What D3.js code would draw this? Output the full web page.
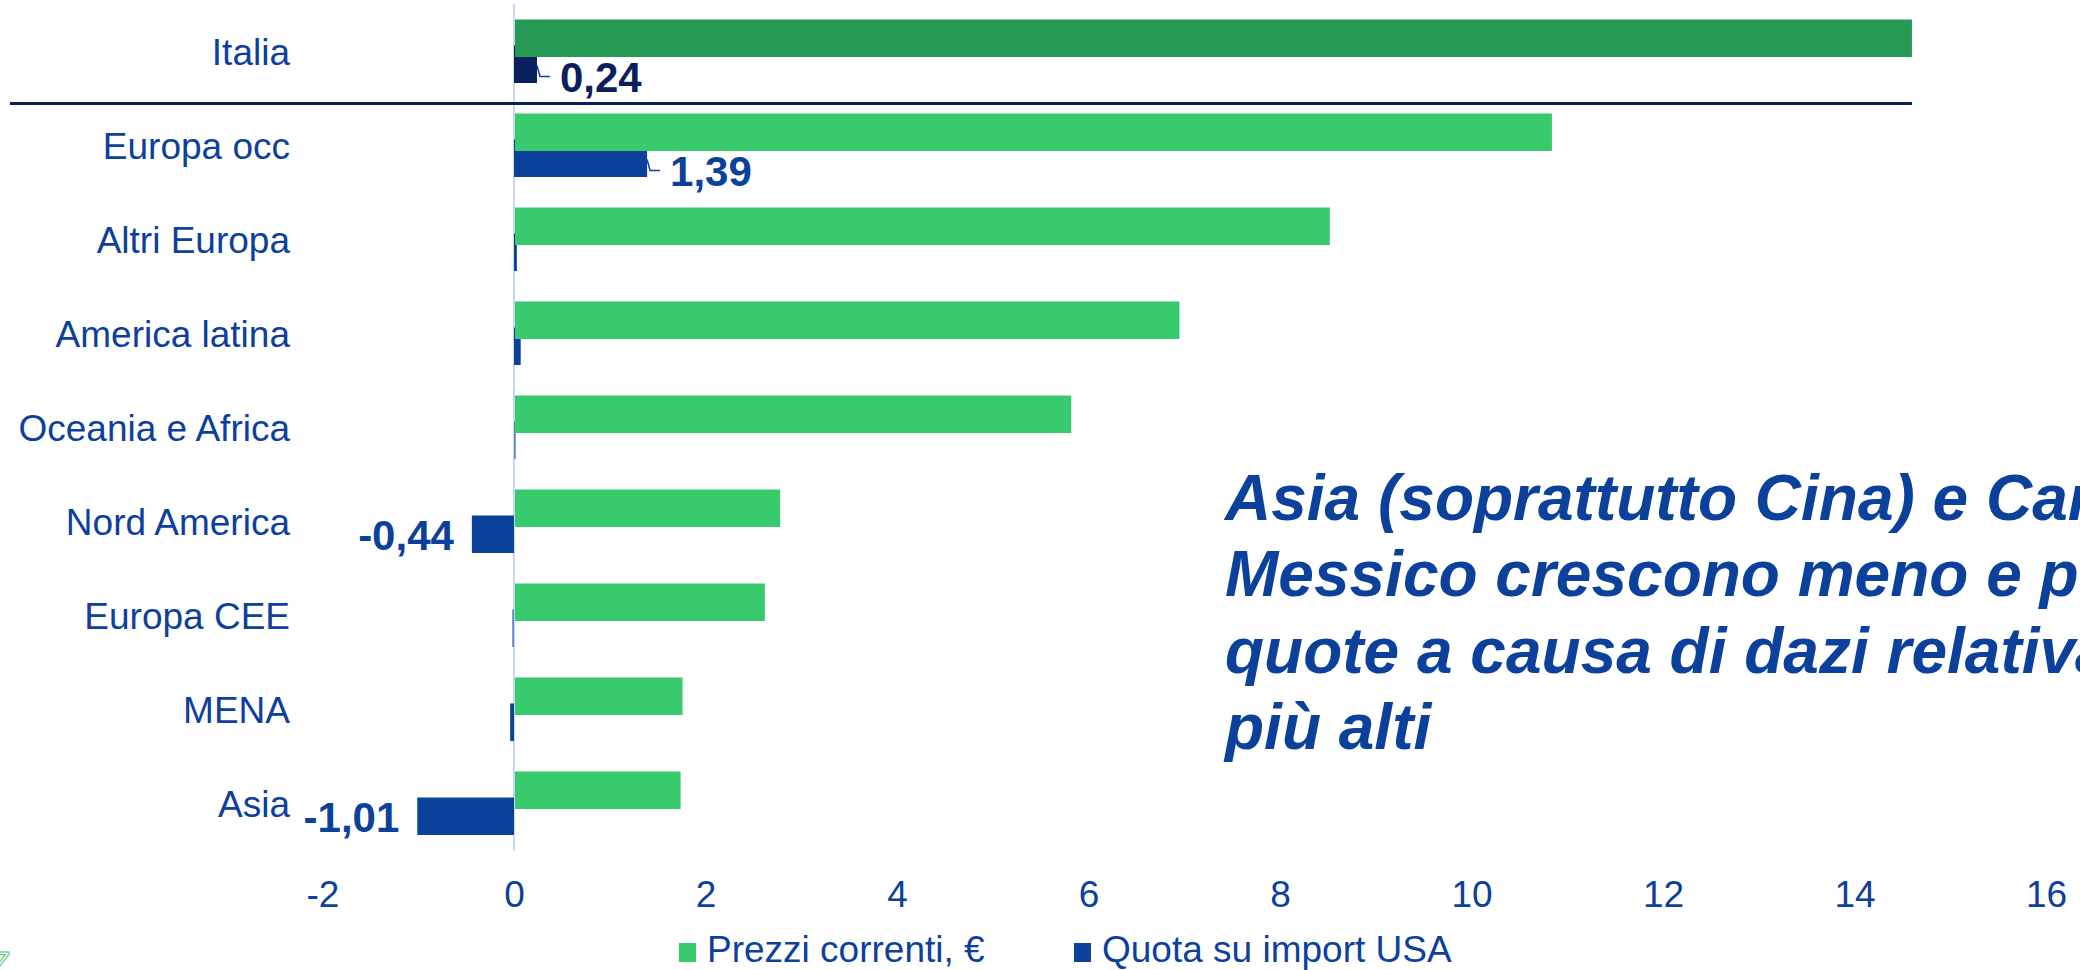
<!DOCTYPE html>
<html>
<head>
<meta charset="utf-8">
<script src="https://cdn.jsdelivr.net/npm/d3@7"></script>
<style>
  body { margin: 0; background: #fff; }
  svg { display: block; font-family: "Liberation Sans", Arial, sans-serif; }
</style>
</head>
<body>
<div class="stage"></div>
<script>
// data
var categories = ["Italia", "Europa occ", "Altri Europa", "America latina", "Oceania e Africa",
                  "Nord America", "Europa CEE", "MENA", "Asia"];
var prezzi = [14.6, 10.84, 8.52, 6.95, 5.82, 2.78, 2.62, 1.76, 1.74];
var quota = [0.24, 1.39, 0.03, 0.07, 0.02, -0.44, -0.02, -0.04, -1.01];
var labelled = ["Italia", "Europa occ", "Nord America", "Asia"];
var xTicks = [-2, 0, 2, 4, 6, 8, 10, 12, 14, 16];
var seriesNames = ["Prezzi correnti, €", "Quota su import USA"];
var noteLines = ["Asia (soprattutto Cina) e Canada-", "Messico crescono meno e perdono",
                 "quote a causa di dazi relativamente", "più alti"];

var W = 2080, H = 970;
var textBlue = "#0d3f9c", barBlue = "#0b419b", navy = "#0a1f5c";
var green = "#38cb6e", darkGreen = "#269955";

var svg = d3.select(".stage").append("svg").attr("width", W).attr("height", H);

var x = d3.scaleLinear().domain([-2, 16]).range([322.5, 2046]);
var y = d3.scaleBand().domain(categories).range([5, 5 + 94 * 9]).padding(0);

var barH = 37.5, greenOff = 14.5, blueOff = greenOff + 26;

// plain hyphen for negatives, comma decimals
var itFmt = function(f){ return function(v){ return f(v).replace("\u2212", "-").replace(".", ","); }; };

// zero axis
svg.append("line")
  .attr("x1", x(0)).attr("x2", x(0)).attr("y1", 4).attr("y2", 851)
  .attr("stroke", "#c9d8f2").attr("stroke-width", 2);

// blue bars first, green on top
svg.selectAll("rect.quota").data(categories).enter()
  .append("rect")
  .attr("class", "quota")
  .attr("x", function(d, i){ return Math.min(x(0), x(quota[i])); })
  .attr("y", function(d){ return y(d) + blueOff; })
  .attr("width", function(d, i){ return Math.max(1.5, Math.abs(x(quota[i]) - x(0))); })
  .attr("height", barH)
  .attr("fill", function(d){ return d == "Italia" ? navy : barBlue; })
  .attr("opacity", function(d, i){ return Math.abs(quota[i]) < 0.025 ? 0.55 : 1; });

svg.selectAll("rect.prezzi").data(categories).enter()
  .append("rect")
  .attr("class", "prezzi")
  .attr("x", x(0) + 1)
  .attr("y", function(d){ return y(d) + greenOff; })
  .attr("width", function(d, i){ return x(prezzi[i]) - x(0) - 1; })
  .attr("height", barH)
  .attr("fill", function(d){ return d == "Italia" ? darkGreen : green; });

// separator under Italia
svg.append("line")
  .attr("x1", 10).attr("x2", x(14.6)).attr("y1", 103.5).attr("y2", 103.5)
  .attr("stroke", navy).attr("stroke-width", 3);

// category labels
svg.selectAll("text.cat").data(categories).enter()
  .append("text")
  .attr("class", "cat")
  .attr("x", 290)
  .attr("y", function(d){ return y(d) + greenOff + 32.5; })
  .attr("dy", "0.35em")
  .attr("text-anchor", "end")
  .attr("font-size", 37)
  .attr("fill", textBlue)
  .text(function(d){ return d; });

// data labels on quota bars
var fmt = itFmt(d3.format(".2f"));
labelled.forEach(function(c){
  var i = categories.indexOf(c), v = quota[i];
  var top = y(c) + blueOff, end = x(v);
  var col = c == "Italia" ? navy : barBlue;
  if (v > 0) {
    svg.append("polyline")
      .attr("points", [[end, top + 20], [end + 3, top + 31], [end + 13, top + 31]].join(" "))
      .attr("fill", "none").attr("stroke", barBlue).attr("stroke-width", 1.5);
    svg.append("text")
      .attr("x", end + 23).attr("y", top + 46)
      .attr("font-size", 42).attr("font-weight", "bold").attr("fill", col)
      .text(fmt(v));
  } else {
    svg.append("text")
      .attr("x", end - 18).attr("y", top + 34)
      .attr("text-anchor", "end")
      .attr("font-size", 42).attr("font-weight", "bold").attr("fill", col)
      .text(fmt(v));
  }
});

// x axis tick labels
var axis = svg.append("g")
  .attr("transform", "translate(0,880)")
  .call(d3.axisBottom(x).tickValues(xTicks).tickSize(0).tickPadding(0).tickFormat(itFmt(d3.format("d"))));
axis.select(".domain").remove();
axis.selectAll("text")
  .attr("y", 27).attr("dy", 0)
  .attr("font-size", 37)
  .attr("font-family", "Liberation Sans, Arial, sans-serif")
  .attr("fill", textBlue);

// legend
var legend = [{x: 679, c: green}, {x: 1074, c: barBlue}];
legend.forEach(function(l, i){
  svg.append("rect").attr("x", l.x).attr("y", 943).attr("width", 17).attr("height", 19).attr("fill", l.c);
  svg.append("text").attr("x", l.x + 28).attr("y", 962)
    .attr("font-size", 37).attr("fill", textBlue).text(seriesNames[i]);
});

// annotation (runs off the right edge, as in the original slide)
svg.append("g").selectAll("text").data(noteLines).enter()
  .append("text")
  .attr("x", 1225)
  .attr("y", function(d, i){ return 520 + i * 76.3; })
  .attr("font-size", 64)
  .attr("font-weight", "bold")
  .attr("font-style", "italic")
  .attr("fill", barBlue)
  .text(function(d){ return d; });

// bit of logo cut off at bottom left
svg.append("text")
  .attr("x", -10).attr("y", 975)
  .attr("font-size", 34)
  .attr("fill", "none").attr("stroke", green).attr("stroke-width", 1)
  .text("Z");
</script>
</body>
</html>
